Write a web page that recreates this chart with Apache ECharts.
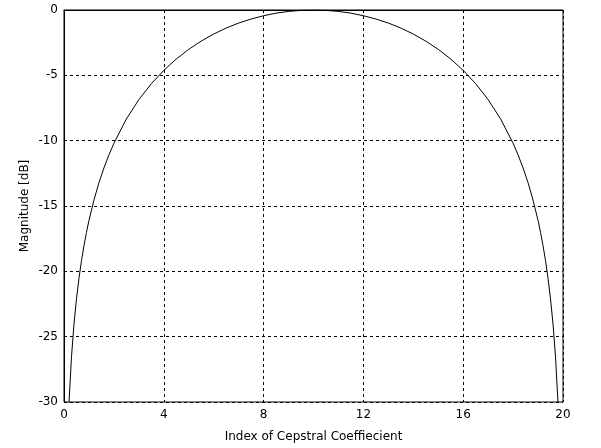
<!DOCTYPE html>
<html>
<head>
<meta charset="utf-8">
<script src="https://cdn.jsdelivr.net/npm/echarts@6/dist/echarts.min.js"></script>
<style>
html,body{margin:0;padding:0;background:#fff;}
#chart{width:601px;height:448px;}
</style>
</head>
<body>
<div id="chart"></div>
<script>
var xValues = [0.2,0.3,0.4,0.5,0.6,0.7,0.8,0.9,1.0,1.2,1.4,1.6,1.8,2.0,2.5,3.0,3.5,4.0,4.5,5.0,5.5,6.0,6.5,7.0,7.5,8.0,8.5,9.0,9.5,10.0,
  10.5,11.0,11.5,12.0,12.5,13.0,13.5,14.0,14.5,15.0,15.5,16.0,16.5,17.0,17.5,18.0,18.2,18.4,18.6,18.8,19.0,19.1,19.2,19.3,19.4,19.5,19.6,19.7,19.8];
var magnitudes = [-30.06,-26.54,-24.04,-22.11,-20.53,-19.19,-18.04,-17.02,-16.11,-14.55,-13.22,-12.09,-11.09,-10.20,-8.34,-6.86,-5.64,-4.62,-3.75,-3.01,-2.38,-1.84,-1.38,-1.00,-0.69,-0.44,-0.24,-0.11,-0.03,0,
  -0.03,-0.11,-0.24,-0.44,-0.69,-1.00,-1.38,-1.84,-2.38,-3.01,-3.75,-4.62,-5.64,-6.86,-8.34,-10.20,-11.09,-12.09,-13.22,-14.55,-16.11,-17.02,-18.04,-19.19,-20.53,-22.11,-24.04,-26.54,-30.06];
var xTicks = [0,4,8,12,16,20];
var yTicks = [-30,-25,-20,-15,-10,-5,0];
var xLabel = 'Index of Cepstral Coeffiecient';
var yLabel = 'Magnitude [dB]';

var data = xValues.map(function(x,i){return [x, magnitudes[i]];});
var font = {fontFamily:'DejaVu Sans, Arial, sans-serif', fontSize:12, color:'#000'};
var chart = echarts.init(document.getElementById('chart'), null, {renderer:'canvas'});
chart.setOption({
  animation:false,
  backgroundColor:'#fff',
  grid:{left:64, top:10, width:499, height:393, show:true, borderColor:'#000', borderWidth:1, backgroundColor:'#fff', containLabel:false},
  xAxis:{
    type:'value', min:xTicks[0], max:xTicks[xTicks.length-1], interval:4,
    axisLine:{show:true, lineStyle:{color:'#000', width:1}},
    axisTick:{show:false},
    splitLine:{show:true, lineStyle:{color:'#000', type:[3,3], width:1}},
    axisLabel:Object.assign({margin:7}, font),
    name:xLabel, nameLocation:'middle', nameGap:29, nameMoveOverlap:false,
    nameTextStyle:font
  },
  yAxis:{
    type:'value', min:yTicks[0], max:yTicks[yTicks.length-1], interval:5,
    axisLine:{show:true, lineStyle:{color:'#000', width:1}},
    axisTick:{show:false},
    splitLine:{show:true, lineStyle:{color:'#000', type:[3,3], width:1}},
    axisLabel:Object.assign({margin:6}, font),
    name:yLabel, nameLocation:'middle', nameGap:33, nameMoveOverlap:false,
    nameTextStyle:font
  },
  series:[{
    type:'line', data:data, showSymbol:false, symbol:'none',
    lineStyle:{color:'#000', width:1}, clip:true, z:5
  }]
});
</script>
</body>
</html>
